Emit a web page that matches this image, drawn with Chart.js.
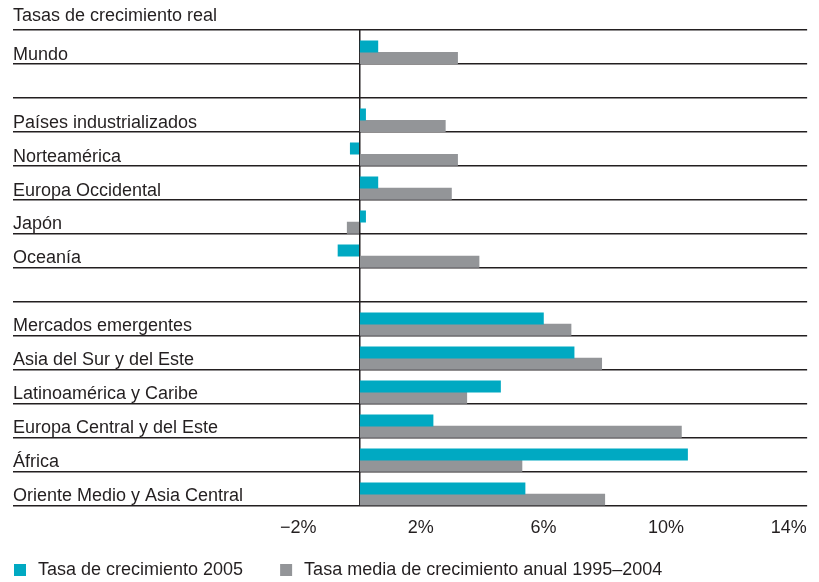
<!DOCTYPE html>
<html>
<head>
<meta charset="utf-8">
<script src="https://cdn.jsdelivr.net/npm/chart.js@4/dist/chart.umd.min.js"></script>
<style>
  html, body { margin: 0; padding: 0; background: #fff; }
  #wrap { width: 819px; height: 582px; }
</style>
</head>
<body>
<div id="wrap"><canvas id="chart" width="819" height="582"></canvas></div>
<script>
// filas del gráfico (las vacías son separadores)
const regions = [
  'Mundo', ' ',
  'Países industrializados', 'Norteamérica', 'Europa Occidental', 'Japón', 'Oceanía', '  ',
  'Mercados emergentes', 'Asia del Sur y del Este', 'Latinoamérica y Caribe',
  'Europa Central y del Este', 'África', 'Oriente Medio y Asia Central'
];
const growth2005 = [0.6, null, 0.2, -0.3, 0.6, 0.2, -0.7, null, 6.0, 7.0, 4.6, 2.4, 10.7, 5.4];
const growthAvg9504 = [3.2, null, 2.8, 3.2, 3.0, -0.4, 3.9, null, 6.9, 7.9, 3.5, 10.5, 5.3, 8.0];
const spacer = regions.map(() => null);
const xTicks = [-2, 0, 2, 6, 10, 14];

const FONT = "'Liberation Sans', Arial, sans-serif";
const FONT_SIZE = 18;
const INK = '#231f20';

// leyenda simple abajo a la izquierda (cuadrado + texto por serie)
const bottomLegend = {
  id: 'bottomLegend',
  afterDraw(chart) {
    const c = chart.ctx;
    const y = 570;
    let x = 14;
    c.save();
    c.font = FONT_SIZE + 'px ' + FONT;
    c.textBaseline = 'middle';
    chart.data.datasets.slice(1).forEach(ds => {
      c.fillStyle = ds.backgroundColor;
      c.fillRect(x, y - 6, 12, 12);
      c.fillStyle = INK;
      c.fillText(ds.label, x + 24, y);
      x += 24 + c.measureText(ds.label).width + 37;
    });
    c.restore();
  }
};

const ctx = document.getElementById('chart');
new Chart(ctx, {
  type: 'bar',
  data: {
    labels: regions,
    datasets: [
      { label: '_spacer', data: spacer, backgroundColor: 'transparent' },
      { label: 'Tasa de crecimiento 2005', data: growth2005, backgroundColor: '#00a9c2' },
      { label: 'Tasa media de crecimiento anual 1995\u20132004', data: growthAvg9504, backgroundColor: '#939598' }
    ]
  },
  options: {
    indexAxis: 'y',
    responsive: false,
    animation: false,
    categoryPercentage: 1,
    barPercentage: 1,
    layout: { padding: { left: 13, right: 11, top: 0, bottom: 31 } },
    scales: {
      x: {
        min: -11.3,
        max: 14.6,
        afterBuildTicks: (axis) => { axis.ticks = xTicks.map(v => ({ value: v })); },
        grid: {
          drawTicks: false,
          color: (c) => (c.tick && c.tick.value === 0 ? INK : 'transparent'),
          lineWidth: 1.5
        },
        border: { display: false },
        ticks: {
          padding: 12,
          color: INK,
          font: { family: FONT, size: FONT_SIZE },
          callback: (v) => (v === 0 ? '' : (v < 0 ? '\u2212' + Math.abs(v) : v) + '%')
        }
      },
      y: {
        afterFit: (s) => { s.width = 0; },
        grid: { offset: true, drawTicks: false, color: INK, lineWidth: 1.5 },
        border: { display: false },
        ticks: {
          mirror: true,
          padding: 0,
          labelOffset: 8,
          color: INK,
          font: { family: FONT, size: FONT_SIZE }
        }
      }
    },
    plugins: {
      title: {
        display: true,
        text: 'Tasas de crecimiento real',
        align: 'start',
        color: INK,
        font: { family: FONT, size: FONT_SIZE, weight: 'normal' },
        padding: { top: 5, bottom: 3 }
      },
      legend: { display: false },
      tooltip: { enabled: false }
    }
  },
  plugins: [bottomLegend]
});
</script>
</body>
</html>
